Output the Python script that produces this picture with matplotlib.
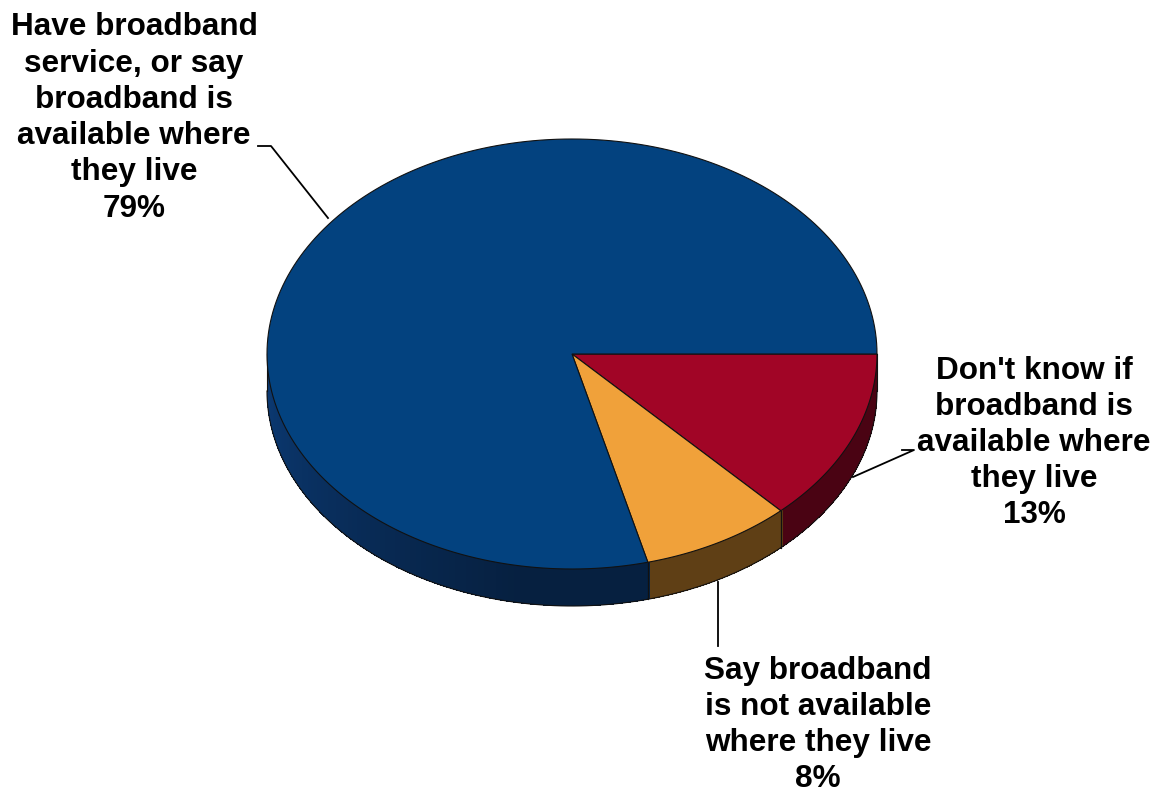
# 3-D style pie of broadband availability drawn with plain patches
import numpy as np
import matplotlib
matplotlib.use('Agg')
import matplotlib.pyplot as plt
from matplotlib.patches import Polygon
from matplotlib.collections import PolyCollection

# slices, clockwise from 3 o'clock
labels = ["Don't know if\nbroadband is\navailable where\nthey live",
          "Say broadband\nis not available\nwhere they live",
          "Have broadband\nservice, or say\nbroadband is\navailable where\nthey live"]
shares = [13, 8, 79]
top_colors = ['#a10526', '#f0a13a', '#03427f']
side_colors = ['#4a0313', '#5f3f15', '#0a3468']

plt.rc('font', family=['Liberation Sans', 'DejaVu Sans'], weight='bold', size=22.7)

fig = plt.figure(figsize=(11.74, 7.94), dpi=100)
ax = fig.add_axes([0, 0, 1, 1])
ax.set_xlim(0, 1174)
ax.set_ylim(794, 0)
ax.axis('off')

cx, cy = 572, 354      # centre of top face
rx, ry = 305, 215      # ellipse radii
depth = 37             # thickness of the disc


def rim(theta, dy=0.0):
    t = np.radians(theta)
    return np.column_stack([cx + rx*np.cos(t), cy - ry*np.sin(t) + dy])


def shade(color, f):
    c = np.array(matplotlib.colors.to_rgb(color))
    return np.clip(c*f, 0, 1)


# slice angles (degrees, counter-clockwise positive, so going negative = clockwise)
edges = -np.concatenate([[0], np.cumsum(shares)]) * 3.6

# side walls (only the front half, -180..0, is visible)
for i in range(len(shares)):
    a0, a1 = edges[i], edges[i+1]
    lo, hi = max(a1, -180), min(a0, 0)
    if lo >= hi:
        continue
    th = np.linspace(hi, lo, 90)
    quads, cols = [], []
    for t1, t2 in zip(th[:-1], th[1:]):
        # overlap neighbouring strips a little so no seams show
        p = rim(np.array([t1 + 0.4, t2 - 0.4]))
        q = rim(np.array([t2 - 0.4, t1 + 0.4]), depth)
        quads.append(np.vstack([p, q]))
        m = (t1 + t2) / 2
        f = 1.0
        if i == 2:
            # the big wall fades from the left rim into the front
            f = (0.55 + 0.45*np.clip((-m - 100) / 80, 0, 1)) * 1.12
        cols.append(shade(side_colors[i], f))
    ax.add_collection(PolyCollection(quads, facecolors=cols, edgecolors='none',
                                     linewidths=0, antialiaseds=False, zorder=1))
    # outlines of the wall
    ax.plot(*rim(th, depth).T, color='#111111', lw=0.8, zorder=2)
    for t in (hi, lo):
        seg = np.vstack([rim(t), rim(t, depth)])
        ax.plot(*seg.T, color='#111111', lw=0.8, zorder=2)

# top faces
for i in range(len(shares)):
    th = np.linspace(edges[i], edges[i+1], 200)
    verts = np.vstack([[cx, cy], rim(th)])
    ax.add_patch(Polygon(verts, closed=True, facecolor=top_colors[i],
                         edgecolor='#111111', lw=0.8, zorder=3))

# leader lines
ax.plot([258, 271, 328], [146, 146, 218], color='black', lw=1.3, zorder=4)
ax.plot([902, 914, 853], [450, 450, 477], color='black', lw=1.3, zorder=4)
ax.plot([718, 718], [582, 646], color='black', lw=1.3, zorder=4)

# data labels
text_pos = [(1034, 443), (818, 725), (134, 118)]
for lab, v, (x, y) in zip(labels, shares, text_pos):
    ax.text(x, y, f'{lab}\n{v}%', ha='center', va='center', multialignment='center',
            linespacing=1.27, color='black', zorder=5)

fig.savefig('out.png', dpi=100, facecolor='white')
